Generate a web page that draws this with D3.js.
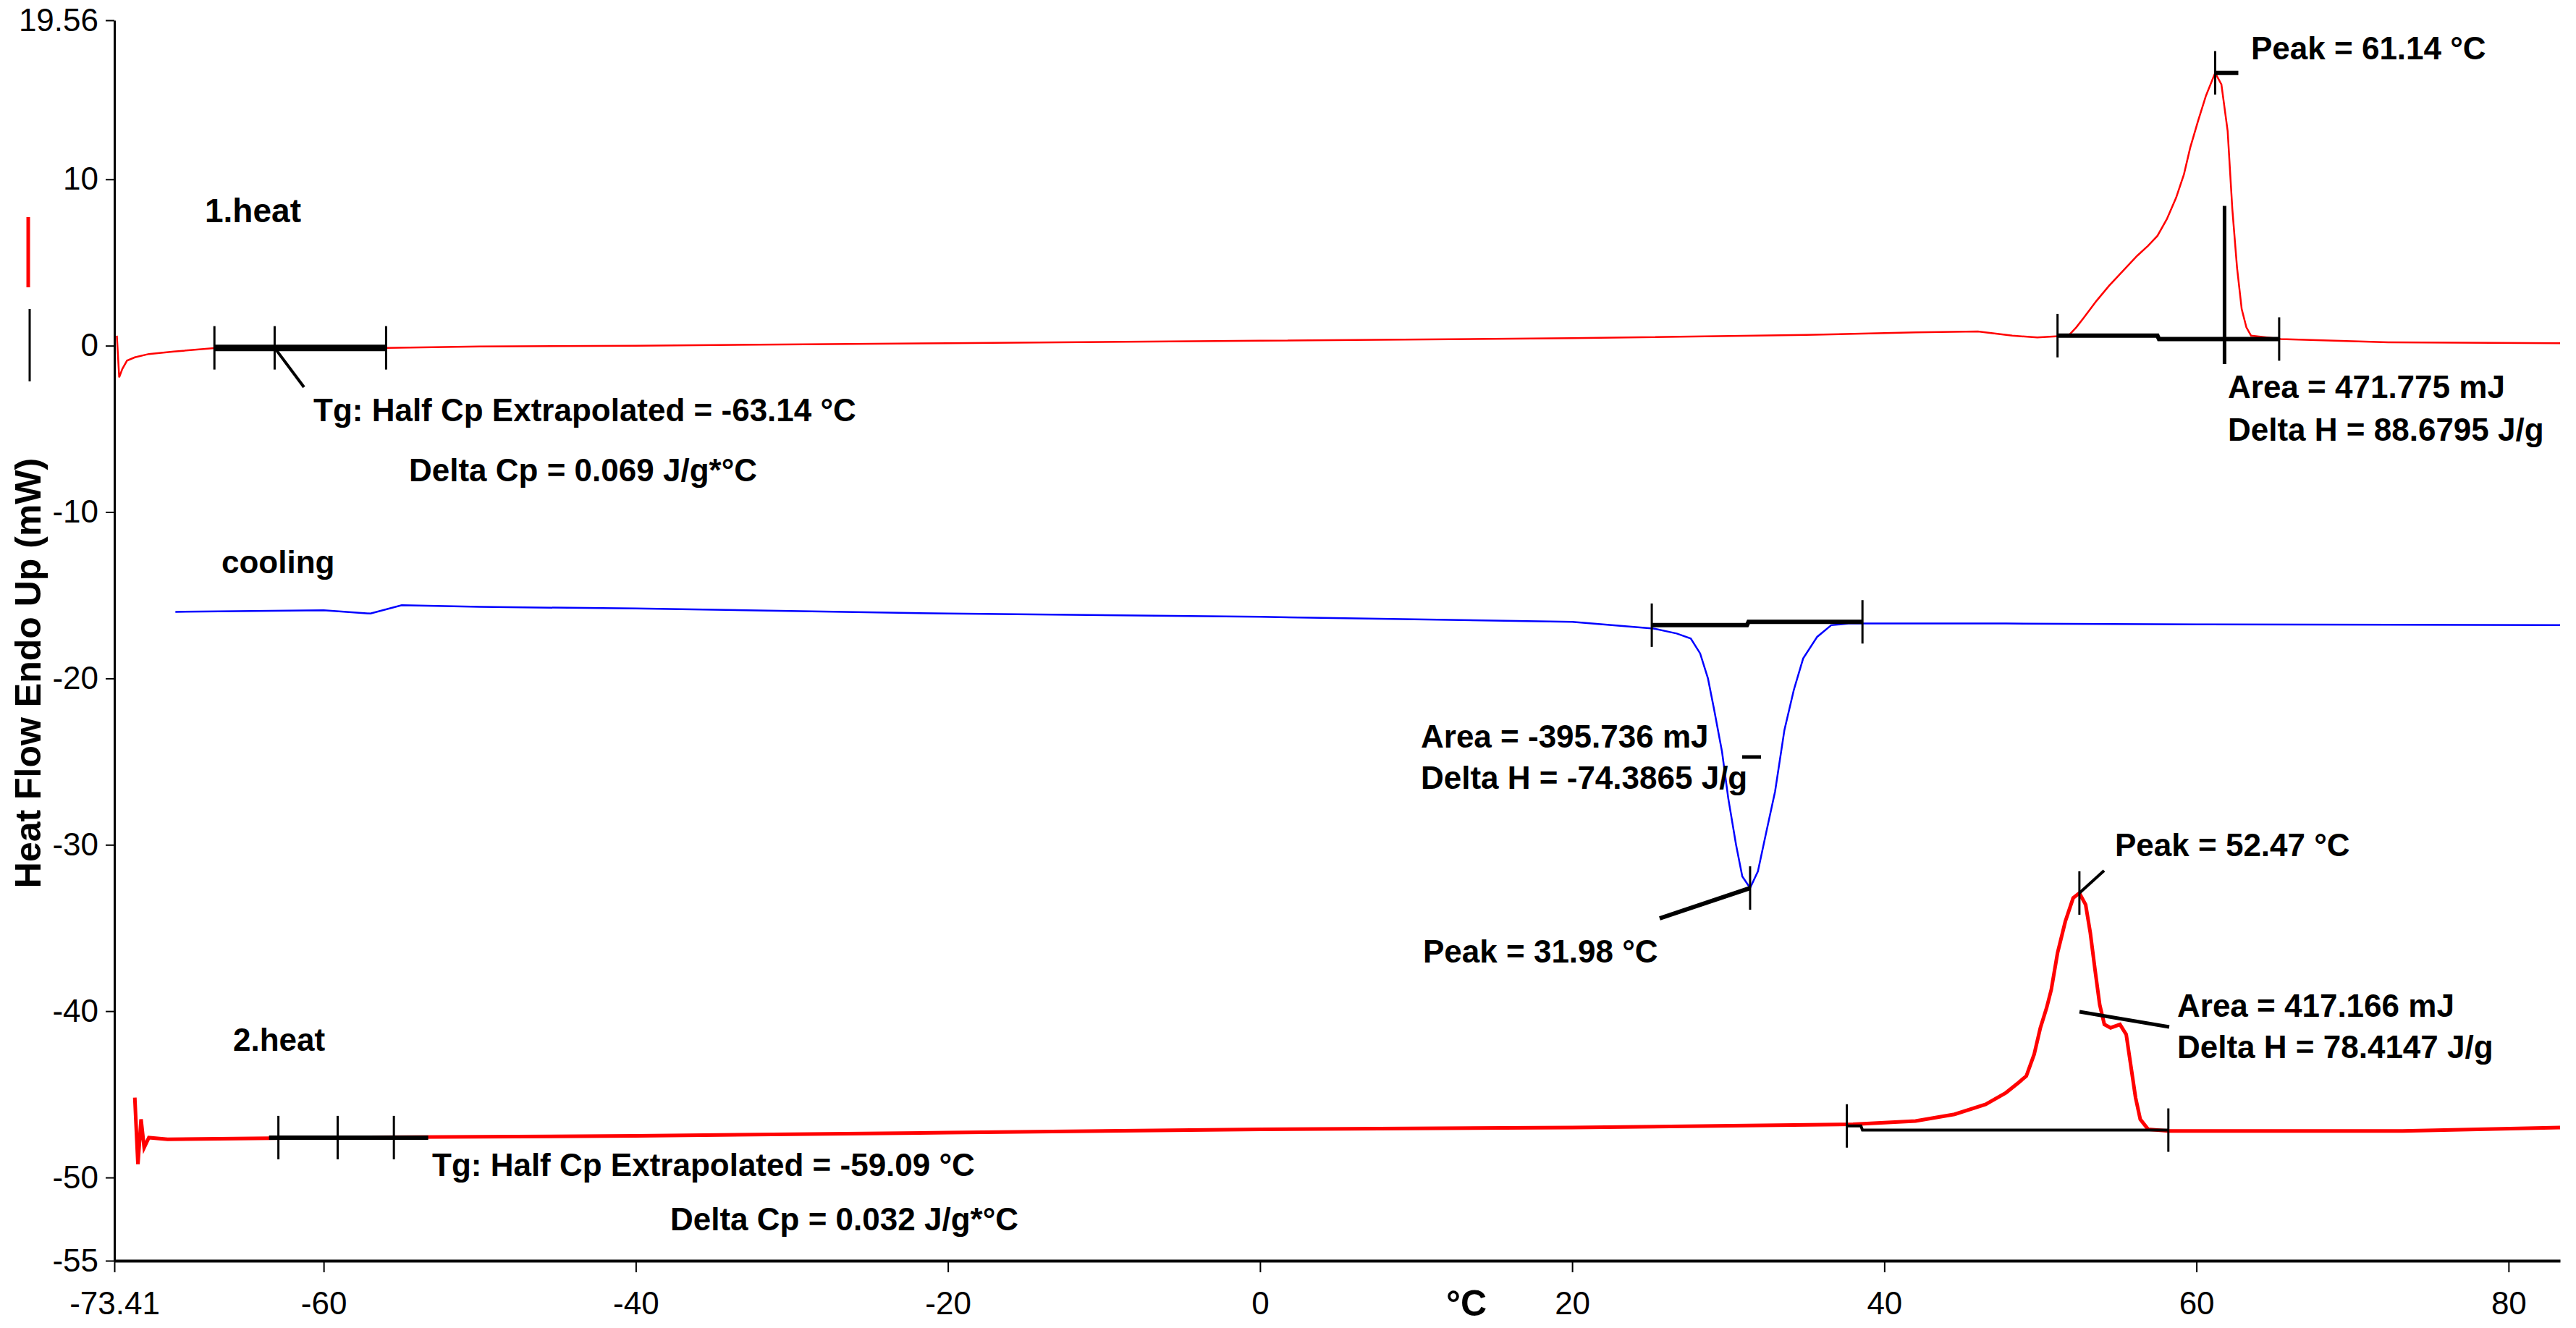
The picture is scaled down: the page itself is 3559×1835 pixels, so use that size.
<!DOCTYPE html>
<html><head><meta charset="utf-8">
<script src="https://cdn.jsdelivr.net/npm/d3@7"></script>
<style>body{margin:0;background:#fff}svg{display:block}text{font-family:'Liberation Sans',Arial,sans-serif}</style>
</head><body>
<svg id="c" width="3559" height="1835"></svg>
<script>
// ---- data ----
const xDomain = [-73.41, 83.3];
const yDomain = [-55, 19.56];
const xTicks = [-73.41, -60, -40, -20, 0, 20, 40, 60, 80];
const xTickLabels = ["-73.41", "-60", "-40", "-20", "0", "20", "40", "60", "80"];
const yTicks = [19.56, 10, 0, -10, -20, -30, -40, -50, -55];
const yTickLabels = ["19.56", "10", "0", "-10", "-20", "-30", "-40", "-50", "-55"];

const heat1 = [[-73.25,0.6],[-73.1,-1.9],[-72.9,-1.4],[-72.6,-0.9],[-72.1,-0.7],[-71.2,-0.5],[-69.6,-0.35],[-67,-0.15],[-56,-0.13],[-50,-0.05],[-40,0.0],[-20,0.15],[0,0.3],[20,0.45],[35,0.65],[42,0.8],[46,0.85],[48.2,0.6],[49.8,0.5],[51.8,0.6],[52.3,1.1],[52.8,1.7],[53.6,2.7],[54.4,3.6],[55.3,4.5],[56.2,5.4],[56.9,6.0],[57.5,6.6],[58.1,7.6],[58.7,8.9],[59.2,10.3],[59.6,11.9],[60.1,13.5],[60.6,15.0],[61.2,16.4],[61.6,15.7],[62.0,12.9],[62.3,8.2],[62.6,4.7],[62.9,2.2],[63.2,1.1],[63.5,0.6],[65.4,0.4],[72.3,0.2],[83.3,0.15]];
const cooling = [[-69.5,-16.0],[-60,-15.9],[-57,-16.1],[-55,-15.6],[-50,-15.7],[-40,-15.8],[-20,-16.1],[0,-16.3],[20,-16.6],[25.2,-17.0],[26.7,-17.3],[27.6,-17.6],[28.2,-18.5],[28.7,-20.0],[29.1,-21.9],[29.6,-24.4],[30.0,-27.2],[30.5,-30.0],[30.9,-31.9],[31.4,-32.6],[31.9,-31.6],[32.4,-29.4],[33.0,-26.8],[33.6,-23.1],[34.2,-20.7],[34.8,-18.8],[35.7,-17.5],[36.6,-16.8],[37.7,-16.7],[47.8,-16.7],[60,-16.75],[83.3,-16.8]];
const heat2 = [[-72.1,-45.2],[-71.9,-49.2],[-71.7,-46.5],[-71.5,-48.2],[-71.2,-47.6],[-70,-47.7],[-60,-47.6],[-40,-47.5],[-20,-47.3],[0,-47.1],[20,-47.0],[38,-46.8],[42,-46.6],[44.5,-46.2],[46.5,-45.6],[47.8,-44.9],[48.6,-44.3],[49.1,-43.9],[49.6,-42.6],[50.0,-41.0],[50.4,-39.8],[50.7,-38.7],[51.1,-36.5],[51.6,-34.6],[52.1,-33.2],[52.5,-32.9],[52.9,-33.6],[53.2,-35.3],[53.5,-37.5],[53.8,-39.6],[54.1,-40.8],[54.5,-41.0],[55.1,-40.8],[55.5,-41.4],[55.8,-43.3],[56.1,-45.2],[56.4,-46.5],[56.9,-47.1],[58.2,-47.2],[73.2,-47.2],[83.3,-47.0]];

// annotation anchors (data units)
const tg1 = {x0:-67.0, xm:-63.14, x1:-56.0, y:-0.13};
const tg2 = {x0:-63.5, xa:-62.9, xm:-59.1, xb:-55.5, x1:-53.3, y:-47.6};
const base1 = [[51.1,0.6],[57.5,0.6],[57.6,0.4],[65.3,0.4]];
const base2 = [[37.6,-46.9],[38.5,-46.9],[38.6,-47.15],[58.2,-47.15]];
const baseC = [[25.1,-16.8],[31.2,-16.8],[31.3,-16.6],[38.6,-16.6]];

const svg = d3.select("#c");
const x = d3.scaleLinear(xDomain, [158, 3537]);
const y = d3.scaleLinear(yDomain, [1742, 28]);
const line = d3.line().x(d=>x(d[0])).y(d=>y(d[1]));

// axes
const xa = svg.append("g").attr("transform",`translate(0,${y(-55)})`)
  .call(d3.axisBottom(x).tickValues(xTicks).tickFormat((d,i)=>xTickLabels[i]).tickSize(16).tickSizeOuter(0));
xa.select(".domain").attr("stroke-width",4);
xa.selectAll(".tick line").attr("stroke-width",2);
xa.selectAll("text").attr("font-size",44).attr("dy","1.25em");
const ya = svg.append("g").attr("transform",`translate(${x(-73.41)},0)`)
  .call(d3.axisLeft(y).tickValues(yTicks).tickFormat((d,i)=>yTickLabels[i]).tickSize(12).tickSizeOuter(0));
ya.select(".domain").attr("stroke-width",3);
ya.selectAll(".tick line").attr("stroke-width",2);
ya.selectAll("text").attr("font-size",44).attr("x",-22);
svg.append("text").attr("x",1998).attr("y",1818).attr("font-size",50).attr("font-weight","bold").text("°C");
svg.append("text").attr("transform","translate(56,930) rotate(-90)").attr("text-anchor","middle")
  .attr("font-size",50).attr("font-weight","bold").text("Heat Flow Endo Up (mW)");
svg.append("line").attr("x1",39).attr("x2",39).attr("y1",300).attr("y2",397).attr("stroke","red").attr("stroke-width",5);
svg.append("line").attr("x1",41).attr("x2",41).attr("y1",427).attr("y2",527).attr("stroke","black").attr("stroke-width",3);

// curves
svg.append("path").datum(heat1).attr("d",line).attr("fill","none").attr("stroke","red").attr("stroke-width",2.5);
svg.append("path").datum(cooling).attr("d",line).attr("fill","none").attr("stroke","blue").attr("stroke-width",2.5);
svg.append("path").datum(heat2).attr("d",line).attr("fill","none").attr("stroke","red").attr("stroke-width",5);

const blk = (x1,y1,x2,y2,w)=>svg.append("line").attr("x1",x1).attr("y1",y1).attr("x2",x2).attr("y2",y2).attr("stroke","black").attr("stroke-width",w);
const vt = (t,v,h)=>blk(x(t),y(v)-h,x(t),y(v)+h,3);
const txt = (s,px,py,fs)=>svg.append("text").attr("x",px).attr("y",py).attr("font-size",fs||44).attr("font-weight","bold").text(s);

// 1.heat annotations
txt("1.heat",283,307,46);
blk(x(tg1.x0),y(tg1.y),x(tg1.x1),y(tg1.y),9);
[tg1.x0,tg1.xm,tg1.x1].forEach(t=>vt(t,tg1.y,30));
blk(x(tg1.xm),y(tg1.y),420,535,4);
txt("Tg: Half Cp Extrapolated = -63.14 °C",433,582);
txt("Delta Cp = 0.069 J/g*°C",565,665);
svg.append("path").datum(base1).attr("d",line).attr("fill","none").attr("stroke","black").attr("stroke-width",6);
vt(51.1,0.6,30); vt(65.3,0.4,30);
blk(x(61.8),y(8.4),x(61.8),503,5);
vt(61.2,16.4,30); blk(x(61.2),y(16.4),x(61.2)+32,y(16.4),6);
txt("Peak = 61.14 °C",3110,82);
txt("Area = 471.775 mJ",3078,550);
txt("Delta H = 88.6795 J/g",3078,609);

// cooling annotations
txt("cooling",306,792);
svg.append("path").datum(baseC).attr("d",line).attr("fill","none").attr("stroke","black").attr("stroke-width",6);
vt(25.1,-16.8,30); vt(38.6,-16.6,30);
vt(31.4,-32.6,30);
blk(x(31.4),y(-32.6),2293,1269,6);
blk(2407,1046,2433,1046,5);
txt("Area = -395.736 mJ",1963,1033);
txt("Delta H = -74.3865 J/g",1963,1090);
txt("Peak = 31.98 °C",1966,1330);

// 2.heat annotations
txt("2.heat",322,1452);
blk(x(tg2.x0),y(tg2.y),x(tg2.x1),y(tg2.y),6);
[tg2.xa,tg2.xm,tg2.xb].forEach(t=>vt(t,tg2.y,30));
txt("Tg: Half Cp Extrapolated = -59.09 °C",597,1625);
txt("Delta Cp = 0.032 J/g*°C",926,1700);
svg.append("path").datum(base2).attr("d",line).attr("fill","none").attr("stroke","black").attr("stroke-width",4);
vt(37.6,-46.9,30); vt(58.2,-47.15,30);
vt(52.5,-32.9,30);
blk(x(52.5),y(-32.9),2907,1203,4);
blk(2873,1398,2997,1419,5);
txt("Peak = 52.47 °C",2922,1183);
txt("Area = 417.166 mJ",3008,1405);
txt("Delta H = 78.4147 J/g",3008,1462);
</script>
</body></html>
